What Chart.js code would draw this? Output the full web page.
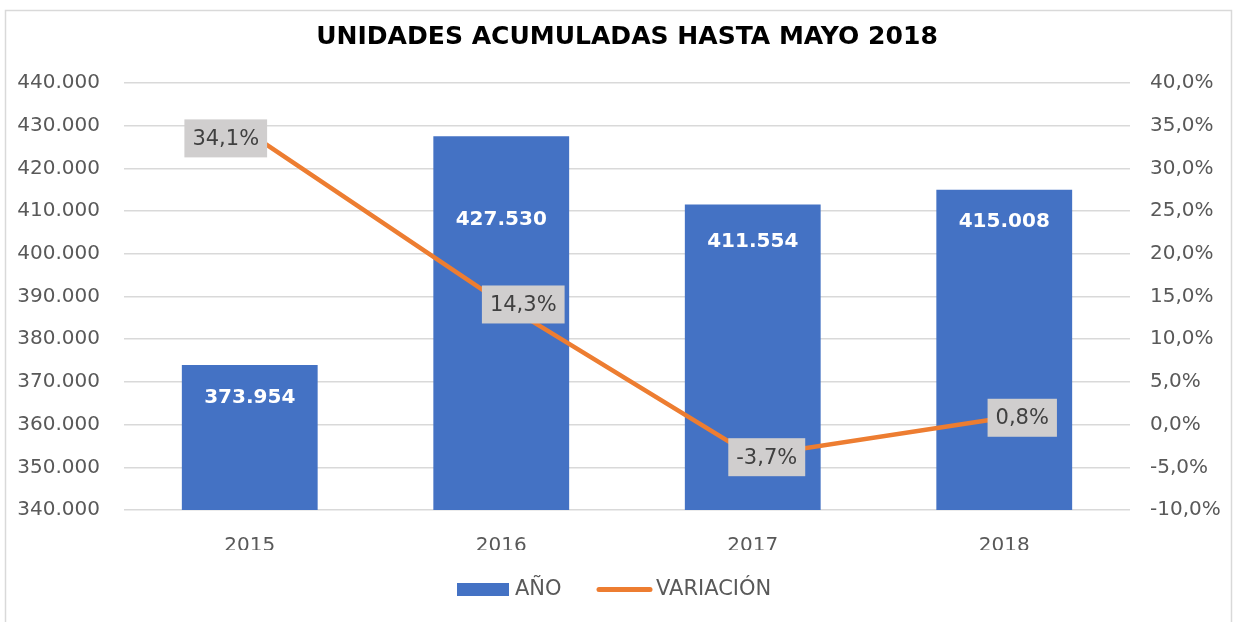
<!DOCTYPE html>
<html>
<head>
<meta charset="utf-8">
<script src="https://cdn.jsdelivr.net/npm/chart.js@4/dist/chart.umd.min.js"></script>
<style>
html,body{margin:0;padding:0;background:#fff;}
#wrap{width:1238px;height:622px;position:relative;}
</style>
</head>
<body>
<div id="wrap"><canvas id="c" width="1238" height="622"></canvas></div>
<script>
const titleText = 'UNIDADES ACUMULADAS HASTA MAYO 2018';
const categories = ['2015', '2016', '2017', '2018'];
const unidades = [373954, 427530, 411554, 415008];
const variacion = [34.1, 14.3, -3.7, 0.8];
const seriesNames = ['AÑO', 'VARIACIÓN'];
const leftTicks = [340000, 440000, 10000];
const rightTicks = [-10, 40, 5];

// label placement styles (offsets in px)
const barLabelOffsets = [33, 84, 37, 32];
const pctLabelOffsets = [[-24, 5], [22, 2], [14, 1], [18, 0]];

const FONT = '"DejaVu Sans", sans-serif';
const fmtThousands = v => Math.round(v).toString().replace(/\B(?=(\d{3})+(?!\d))/g, '.');
const fmtPct = v => v.toFixed(1).replace('.', ',') + '%';

const decor = {
  id: 'decor',
  afterDraw(chart) {
    const ctx = chart.ctx;
    ctx.save();
    // border
    ctx.strokeStyle = '#d9d9d9';
    ctx.lineWidth = 1.5;
    ctx.strokeRect(5.5, 10.5, 1226, 700);
    // title
    let size = 24;
    ctx.font = 'bold ' + size + 'px ' + FONT;
    const w = ctx.measureText(titleText).width;
    size = size * 622 / w;
    ctx.font = 'bold ' + size.toFixed(2) + 'px ' + FONT;
    ctx.fillStyle = '#000';
    ctx.textAlign = 'center';
    ctx.textBaseline = 'middle';
    ctx.fillText(titleText, 627, 37);
    // legend
    ctx.font = '21px ' + FONT;
    ctx.fillStyle = '#4472c4';
    ctx.fillRect(457, 583, 52, 13);
    ctx.fillStyle = '#595959';
    ctx.textAlign = 'left';
    ctx.fillText(seriesNames[0], 515, 590);
    ctx.strokeStyle = '#ed7d31';
    ctx.lineWidth = 5;
    ctx.lineCap = 'round';
    ctx.beginPath();
    ctx.moveTo(599, 589.5);
    ctx.lineTo(650, 589.5);
    ctx.stroke();
    ctx.fillText(seriesNames[1], 656, 590);
    ctx.restore();
  },
  afterDatasetsDraw(chart) {
    const ctx = chart.ctx;
    ctx.save();
    // bar labels
    const barMeta = chart.getDatasetMeta(0);
    ctx.font = 'bold 20px ' + FONT;
    ctx.fillStyle = '#ffffff';
    ctx.textAlign = 'center';
    ctx.textBaseline = 'middle';
    barMeta.data.forEach((bar, i) => {
      ctx.fillText(fmtThousands(unidades[i]), bar.x, bar.y + barLabelOffsets[i]);
    });
    // pct labels
    const lineMeta = chart.getDatasetMeta(1);
    ctx.font = '21px ' + FONT;
    lineMeta.data.forEach((pt, i) => {
      const t = fmtPct(variacion[i]);
      const tw = ctx.measureText(t).width;
      const cx = pt.x + pctLabelOffsets[i][0];
      const cy = pt.y + pctLabelOffsets[i][1];
      const bw = tw + 16, bh = 38;
      ctx.fillStyle = '#d0cece';
      ctx.fillRect(cx - bw / 2, cy - bh / 2, bw, bh);
      ctx.fillStyle = '#404040';
      ctx.fillText(t, cx, cy + 1);
    });
    ctx.restore();
  }
};

new Chart(document.getElementById('c'), {
  data: {
    labels: categories,
    datasets: [
      {
        type: 'bar',
        label: seriesNames[0],
        data: unidades,
        backgroundColor: '#4472c4',
        yAxisID: 'y',
        order: 1,
        categoryPercentage: 1,
        barPercentage: 0.54
      },
      {
        type: 'line',
        label: seriesNames[1],
        data: variacion,
        borderColor: '#ed7d31',
        borderWidth: 4.5,
        pointRadius: 0,
        tension: 0,
        yAxisID: 'y1',
        order: 0
      }
    ]
  },
  plugins: [decor],
  options: {
    responsive: false,
    animation: false,
    devicePixelRatio: 1,
    layout: { padding: { top: 83, bottom: 72, left: 0, right: 0 } },
    plugins: {
      legend: { display: false },
      title: { display: false },
      tooltip: { enabled: false }
    },
    scales: {
      x: {
        grid: { display: false, drawTicks: false },
        border: { display: false },
        ticks: { color: '#595959', font: { family: FONT, size: 20 }, padding: 24 },
        afterFit(s) { s.height = 40; }
      },
      y: {
        position: 'left',
        min: leftTicks[0], max: leftTicks[1],
        grid: { color: '#d9d9d9', lineWidth: 1.5, drawTicks: false },
        border: { display: false },
        ticks: {
          stepSize: leftTicks[2],
          color: '#595959',
          font: { family: FONT, size: 20 },
          padding: 24,
          callback: v => fmtThousands(v)
        },
        afterFit(s) { s.width = 124; }
      },
      y1: {
        position: 'right',
        min: rightTicks[0], max: rightTicks[1],
        grid: { display: false, drawTicks: false },
        border: { display: false },
        ticks: {
          stepSize: rightTicks[2],
          color: '#595959',
          font: { family: FONT, size: 20 },
          padding: 20,
          callback: v => fmtPct(v)
        },
        afterFit(s) { s.width = 108; }
      }
    }
  }
});
</script>
</body>
</html>
